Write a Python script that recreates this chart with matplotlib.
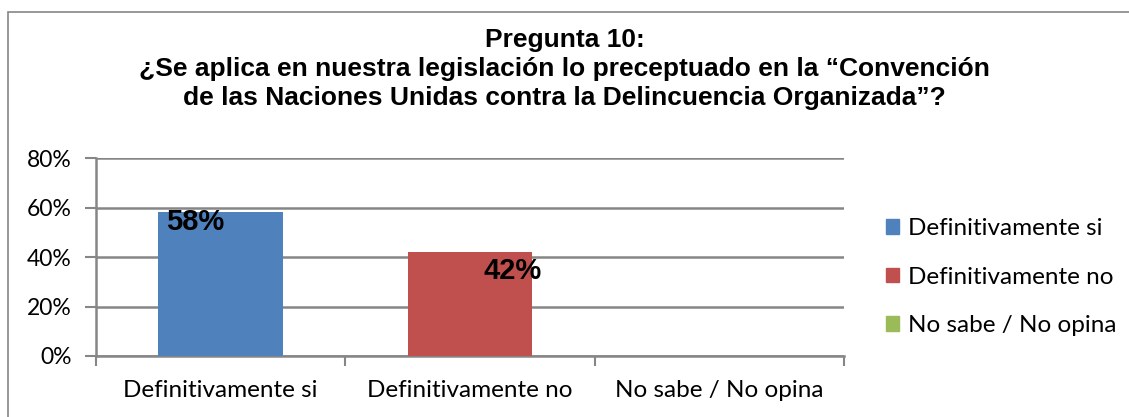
import matplotlib.pyplot as plt
from matplotlib.patches import Rectangle, Patch

# Datos
categorias = ['Definitivamente si', 'Definitivamente no', 'No sabe / No opina']
valores = [58, 42, 0]
colores = ['#4F81BD', '#C0504D', '#9BBB59']
etiquetas = ['58%', '42%']

gris = '#868686'

fig = plt.figure(figsize=(11.29, 4.17), dpi=100)
ax = fig.add_axes([96 / 1129, 1 - 356 / 417, 748 / 1129, 198 / 417])

x = list(range(len(categorias)))
ax.bar(x, valores, width=0.5, color=colores, zorder=3)

ax.set_xlim(-0.5, 2.5)
ax.set_ylim(0, 80)
ax.set_yticks([0, 20, 40, 60, 80])
ax.set_yticklabels(['0%', '20%', '40%', '60%', '80%'], fontsize=16.5, family='Lato')
ax.yaxis.grid(True, color=gris, linewidth=1.8, zorder=0)

# ticks del eje x entre categorias
ax.set_xticks([-0.5, 0.5, 1.5, 2.5])
ax.set_xticklabels([])
ax.tick_params(axis='x', length=7, width=1.5, color=gris)
ax.tick_params(axis='y', length=8, width=1.5, color=gris, pad=9.5)
for i, c in enumerate(categorias):
    ax.text(i, -14, c, ha='center', va='center', fontsize=17.5, family='Lato')

for s in ['top', 'right']:
    ax.spines[s].set_visible(False)
for s in ['left', 'bottom']:
    ax.spines[s].set_color(gris)
    ax.spines[s].set_linewidth(1.8)

# etiquetas de datos
ax.text(-0.22, 54, etiquetas[0], ha='left', va='center', fontsize=21,
        fontweight='bold', family='Liberation Sans', zorder=4)
ax.text(1.172, 34.5, etiquetas[1], ha='center', va='center', fontsize=21,
        fontweight='bold', family='Liberation Sans', zorder=4)

# titulo
fig.text(0.5, 1 - 69 / 417,
         'Pregunta 10:\n¿Se aplica en nuestra legislación lo preceptuado en la “Convención\n'
         'de las Naciones Unidas contra la Delincuencia Organizada”?',
         ha='center', va='center', fontsize=19, fontweight='bold',
         family='Liberation Sans', linespacing=1.27)

# leyenda
handles = [Patch(color=c) for c in colores]
fig.legend(handles, categorias, loc='center left', bbox_to_anchor=(886 / 1129, 1 - 277 / 417),
           frameon=False, prop={'family': 'Lato', 'size': 17.5},
           borderpad=0, borderaxespad=0,
           handlelength=0.55, handleheight=0.55, handletextpad=0.35, labelspacing=1.14)

# marco del grafico
fig.patches.append(Rectangle((8 / 1129, -0.05), 1.2, 1 - 12 / 417 + 0.05,
                             transform=fig.transFigure, fill=False,
                             edgecolor=gris, linewidth=1.2))

plt.savefig('out.png', dpi=100)
